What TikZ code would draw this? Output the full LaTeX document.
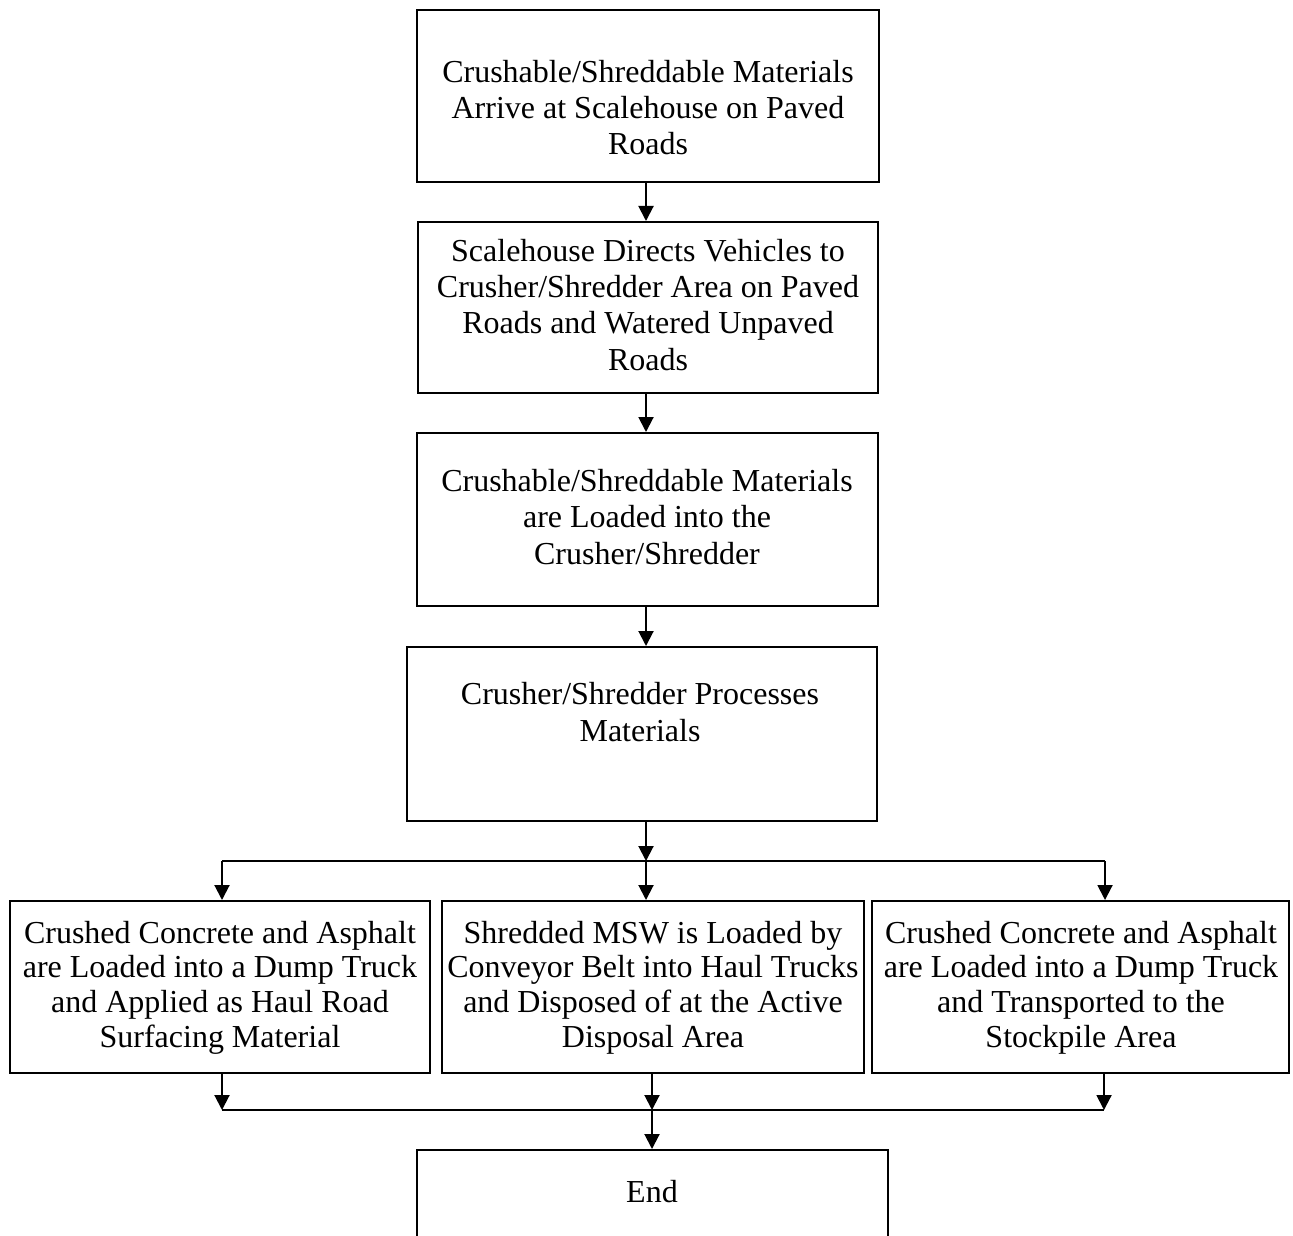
\documentclass[tikz,border=0pt]{standalone}
\usepackage{fontspec}
\setmainfont{Liberation Serif}
\usetikzlibrary{arrows.meta, calc, positioning}
\tikzset{box/.style={rectangle,draw=black,line width=1pt,inner sep=0pt}}
\tikzset{txt/.style={align=center,inner sep=0pt,anchor=base,font=\fontsize{16}{18.1}\selectfont}}
\tikzset{txtb/.style={txt,font=\fontsize{16}{17.4}\selectfont}}
\tikzset{arr/.style={line width=1pt,-{Triangle[length=7.5pt,width=7.5pt]}}}
\tikzset{ln/.style={line width=1pt}}

\begin{document}
\begin{tikzpicture}[x=0.5pt,y=-0.5pt]
\clip (0,0) rectangle (1293,1235);

\node [box,minimum width=231pt,minimum height=86pt] at (648,96) (arrive) {};
\node [txt] at (648,155) (tarrive) {Crushable/Shreddable Materials\\Arrive at Scalehouse on Paved\\Roads};

\node [box,minimum width=230pt,minimum height=85.5pt] at (648,307.5) (direct) {};
\node [txt] at (648,370) (tdirect) {Scalehouse Directs Vehicles to\\Crusher/Shredder Area on Paved\\Roads and Watered Unpaved\\Roads};

\node [box,minimum width=230.5pt,minimum height=86.5pt] at (647,519.5) (load) {};
\node [txt] at (647,564) (tload) {Crushable/Shreddable Materials\\are Loaded into the\\Crusher/Shredder};

\node [box,minimum width=235pt,minimum height=87pt] at (642,734) (proc) {};
\node [txt] at (640,741) (tproc) {Crusher/Shredder Processes\\Materials};

\node [box,minimum width=210pt,minimum height=86pt] at (220,987) (haul) {};
\node [txtb] at (220,1047.5) (thaul) {Crushed Concrete and Asphalt\\are Loaded into a Dump Truck\\and Applied as Haul Road\\Surfacing Material};

\node [box,minimum width=211pt,minimum height=86pt] at (653,987) (msw) {};
\node [txtb] at (653,1047.5) (tmsw) {Shredded MSW is Loaded by\\Conveyor Belt into Haul Trucks\\and Disposed of at the Active\\Disposal Area};

\node [box,minimum width=208.5pt,minimum height=86pt] at (1080.5,987) (stock) {};
\node [txtb] at (1081,1047.5) (tstock) {Crushed Concrete and Asphalt\\are Loaded into a Dump Truck\\and Transported to the\\Stockpile Area};

\node [box,minimum width=235.5pt,minimum height=60pt] at (652.5,1210) (fin) {};
\node [txt] at (652,1202) (tfin) {End};

% split and merge points
\coordinate (sl) at (222,861);
\coordinate (sm) at (646,861);
\coordinate (sr) at (1105,861);
\coordinate (ml) at (222,1110);
\coordinate (mm) at (652,1110);
\coordinate (mr) at (1104,1110);

\draw [arr] (sm |- arrive.south) -- (sm |- direct.north);
\draw [arr] (sm |- direct.south) -- (sm |- load.north);
\draw [arr] (sm |- load.south) -- (sm |- proc.north);
\draw [arr] (sm |- proc.south) -- (sm);
\draw [ln] (sl) -- (sr);
\draw [arr] (sl) -- (sl |- haul.north);
\draw [arr] (sm) -- (sm |- msw.north);
\draw [arr] (sr) -- (sr |- stock.north);

\draw [arr] (ml |- haul.south) -- (ml);
\draw [arr] (mm |- msw.south) -- (mm);
\draw [arr] (mr |- stock.south) -- (mr);
\draw [ln] (ml) -- (mr);
\draw [arr] (mm) -- (mm |- fin.north);
\end{tikzpicture}
\end{document}
